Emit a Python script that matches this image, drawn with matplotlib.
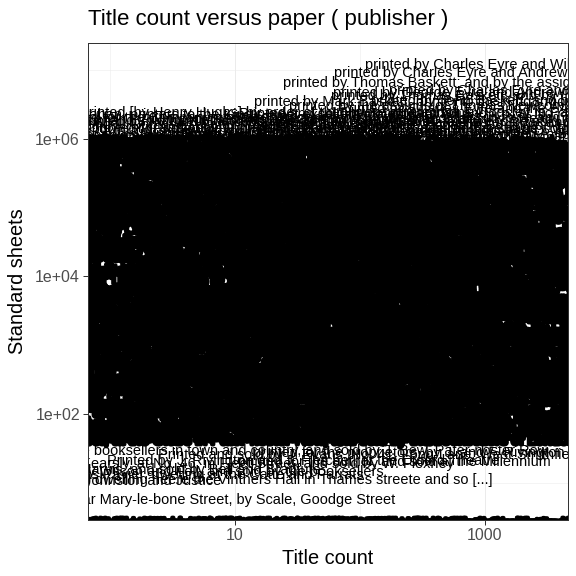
import matplotlib
matplotlib.use('Agg')
import matplotlib.pyplot as plt
import matplotlib.patheffects as pe
from matplotlib.ticker import FixedLocator, NullFormatter

plt.rcParams['font.family'] = ['Liberation Sans', 'DejaVu Sans']

# publisher imprints used for the dense mass of labels
names = [
    "printed by Charles Eyre and William Strahan, printers to the King's most excellent majesty",
    "London : printed for J. Dodsley, in Pall-Mall, and sold by T. Cadell in the Strand",
    "printed for W. Strahan; J. F. and C. Rivington, T. Payne, W. Owen, T. Longman, B. White",
    "Printed for R. Baldwin, in Pater-noster Row; and J. Johnson, in St. Paul's Church-yard",
    "printed by John Baskett, printer to the Kings most excellent majesty, and by the assigns of Thomas Newcomb",
    "Printed for the Company of Stationers, and sold by the booksellers in town and country",
    "printed for A. Millar, J. and R. Tonson, and D. Wilson and T. Durham, in the Strand",
    "Printed by Thomas Harper for Richard Thrale, and are to be sold at his shop at the Crosse-keyes",
    "printed for G. G. J. and J. Robinson, Pater-noster-Row; and J. Debrett, Piccadilly",
    "Printed by J. Nichols, and sold by J. Wilkie, in St. Paul's Church-Yard; and T. Payne",
    "printed for T. Becket and P. A. De Hondt, at Tully's Head, near Surry-Street, in the Strand",
    "Printed for J. Roberts near the Oxford-Arms in Warwick-Lane, and sold by the booksellers",
    "printed by W. Bowyer, for C. Bathurst, J. Beecroft, W. Strahan, J. and F. Rivington",
    "Printed for John Stockdale, opposite Burlington-House, Piccadilly; and J. Debrett",
    "printed by S. Richardson; and sold by J. Osborn, at the Golden-Ball in Pater-noster Row",
    "Printed by Hamilton and Balfour; and sold by Kincaid and Bell, and by John Wood",
    "printed for J. Knapton, R. Knaplock, J. Sprint, D. Midwinter, A. Bettesworth, and W. Innys",
    "Printed for J. Wilford, behind the Chapter-House, near St. Paul's, and sold by the pamphlet-sellers",
    "printed by R. and A. Foulis, printers to the University, and sold by them and other booksellers",
    "Printed and sold by John Marshall and Co. at No. 4, Aldermary Church-Yard, in Bow-Lane",
    "printed by Richard Hodgkinsonne for Thomas Whitaker, and are to be sold at the signe of the Kings Head",
    "Printed for T. Cooper, at the Globe in Pater-noster-Row, and sold by the booksellers of London and Westminster",
]

# dense block of publishers (title count, standard sheets)
core_titles = [
    1.5, 35, 1900, 4.2, 140, 2700, 1.1, 14, 650, 8,
    260, 3000, 2.2, 48, 1200, 6, 90, 2400, 1.3, 20,
    850, 3.5, 170, 2800, 1.8, 28, 1500, 5, 75, 2200,
    1.2, 16, 950, 7, 210, 3100, 2.6, 40, 1700, 4,
    120, 2600, 1.4, 24, 720, 9, 300, 2900, 2, 55,
    1400, 3.2, 150, 2300, 1.6, 18, 1000, 6.5, 85, 2500,
    1.1, 32, 1800, 4.8, 190, 3000, 2.4, 12, 580, 7.5,
    240, 2700, 1.7, 45, 1300, 5.5, 100, 2100, 1.3, 26,
    900, 3.8, 160, 2900, 2, 22, 1600, 4.5, 65, 2400,
    1.2, 38, 1100, 8.5, 230, 3100, 2.8, 15, 780, 6,
    130, 2600, 1.5, 30, 1400, 5, 95, 2800, 1.9, 60,
]
core_sheets = [
    950000, 880000, 805000, 742000, 680000, 618000, 566000, 520000, 471000, 433000,
    396000, 361000, 330000, 300000, 274000, 251000, 228000, 208000, 190000, 174000,
    158000, 145000, 132000, 120000, 110000, 100500, 91600, 83400, 76100, 69300,
    63200, 57500, 52400, 47800, 43500, 39700, 36100, 32900, 30000, 27400,
    24900, 22700, 20700, 18900, 17200, 15700, 14300, 13000, 11900, 10800,
    9860, 8990, 8190, 7460, 6800, 6200, 5650, 5150, 4690, 4280,
    3900, 3550, 3240, 2950, 2690, 2450, 2230, 2040, 1860, 1690,
    1540, 1410, 1280, 1170, 1065, 970, 885, 806, 735, 670,
    611, 557, 507, 462, 421, 384, 350, 319, 291, 265,
    241, 220, 200, 183, 167, 152, 138, 126, 115, 105,
    95, 87, 79, 72, 65.5, 59.7, 54.4, 49.6, 45.2, 41.2,
]

# looser fringe above the block
top_titles = [1.3, 60, 900, 2.5, 300, 2600, 8, 1500, 1.1, 25,
              2000, 4, 450, 3000, 1.7, 120, 12, 2200, 5, 700]
top_sheets = [2.2e6, 2.05e6, 1.95e6, 1.85e6, 1.78e6, 1.7e6, 1.6e6, 1.52e6, 1.45e6, 1.38e6,
              1.32e6, 1.26e6, 1.2e6, 1.15e6, 1.1e6, 1.06e6, 1.02e6, 2.3e6, 1.9e6, 1.4e6]

# single publishers that stand out
solo_names = [
    "printed by Charles Eyre and William Strahan",
    "printed by Charles Eyre and Andrew Strahan",
    "printed by Thomas Baskett; and by the assigns of Robert Baskett",
    "printed by George Eyre and Andrew Strahan",
    "printed by Mark Baskett, printer to the King's most excellent majesty",
    "printed by John Baskett, and by the assigns of Robert",
    "printed by Charles Eyre and William Strahan",
    "printed by Thomas Baskett, and by the assigns of Robert Baskett",
    "printed by the assigns of Thomas Newcomb, and Henry Hills, deceas'd",
    "Printed by Charles Eyre and the executors of William Strahan",
    "Printed [by Henry Hughs] by order of the House of Commons",
    "London : printed for J. Dodsley in Pall Mall, and",
    "printed for the proprietors, by J. and F. Rivington",
    "Printed for the booksellers in town and country, and sold by J. Bew, Pater-noster Row",
    "Printed and sold by J. Evans, No. 41, Long-Lane, West-Smithfield",
    "printed for the author, and sold at the Millennium",
    "Printed by J. Rivington and J. Fletcher, at the Oxford Theatre",
    "printed for G. Kearsly, at No. 46, in Fleet-Street, and sold by W. Flexney",
    "Printed by J. Jarvis, and sold by Bell and Bradfute",
    "printed by Wilson and Fell, and sold by the booksellers",
    "Printed for Thomas Pavier, dwelling at the Catte and Parrats",
    "Imprinted by Henrie Bynneman, dwelling neere the Vinthers Hall in Thames streete and so [...]",
    "Printed by J. Johnston and Justice",
    "Sold at No. 3, Charles Street, near Mary-le-bone Street, by Scale, Goodge Street",
]
solo_titles = [1530, 880, 1160, 850, 800, 3000, 2400, 2800, 1800, 2600, 21, 1000,
               246, 20, 120, 190, 35, 8, 2.5, 6, 3, 4.3, 1, 1.55]
solo_sheets = [1.19e7, 9.1e6, 6.5e6, 4.7e6, 3.5e6, 3.6e6, 5.0e6, 4.2e6, 3.0e6, 2.7e6, 2.39e6, 2.35e6,
               27, 28.5, 25.5, 20, 21, 19, 15.5, 14.5, 13, 11.1, 10.6, 5.6]

# publishers with hardly any paper, piled on the bottom edge
floor_titles = [1.5, 40, 1500, 300, 6, 3000, 12, 700]
floor_sheets = [2.5, 2.5, 2.5, 2.5, 2.5, 2.5, 2.48, 2.48]

fig = plt.figure(figsize=(8, 8), dpi=72)
ax = fig.add_axes([88 / 576, 56 / 576, 480 / 576, 477 / 576])
ax.set_xscale('log')
ax.set_yscale('log')
ax.set_xlim(10 ** -0.176, 10 ** 3.664)
ax.set_ylim(10 ** 0.458, 10 ** 7.396)

fs = 14.5
stroke = [pe.withStroke(linewidth=4, foreground='black')]
for i, (x, y) in enumerate(zip(core_titles, core_sheets)):
    ax.text(x, y, names[i % len(names)], ha='center', va='center', fontsize=fs,
            color='black', clip_on=True, path_effects=stroke)
for x, y in zip(floor_titles, floor_sheets):
    ax.text(x, y, names[0], ha='center', va='center', fontsize=fs,
            color='black', clip_on=True, path_effects=stroke)
for i, (x, y) in enumerate(zip(top_titles, top_sheets)):
    ax.text(x, y, names[(i * 5) % len(names)], ha='center', va='center', fontsize=fs,
            color='black', clip_on=True)
for t, x, y in zip(solo_names, solo_titles, solo_sheets):
    ax.text(x, y, t, ha='center', va='center', fontsize=fs, color='black', clip_on=True)

# axes, grid and ticks in the look of theme_bw
ax.xaxis.set_major_locator(FixedLocator([10, 1000]))
ax.xaxis.set_minor_locator(FixedLocator([1, 100]))
ax.yaxis.set_major_locator(FixedLocator([1e2, 1e4, 1e6]))
ax.yaxis.set_minor_locator(FixedLocator([1e1, 1e3, 1e5, 1e7]))
ax.set_xticklabels(['10', '1000'])
ax.set_yticklabels(['1e+02', '1e+04', '1e+06'])
ax.xaxis.set_minor_formatter(NullFormatter())
ax.yaxis.set_minor_formatter(NullFormatter())
ax.tick_params(which='major', direction='out', length=5, width=1, color='#333333',
               labelcolor='#4D4D4D', labelsize=16, pad=3)
ax.tick_params(which='minor', length=0)
ax.grid(which='major', color='#EBEBEB', linewidth=1)
ax.grid(which='minor', color='#EBEBEB', linewidth=0.5)
ax.set_axisbelow(True)
for sp in ax.spines.values():
    sp.set_color('#333333')
    sp.set_linewidth(1)
    sp.set_zorder(10)

fig.text(88 / 576, 1 - 20 / 576, 'Title count versus paper ( publisher )',
         ha='left', va='center', fontsize=22.3)
fig.text(328 / 576, 1 - 558 / 576, 'Title count', ha='center', va='center', fontsize=20)
fig.text(18 / 576, 1 - 281 / 576, 'Standard sheets', ha='center', va='center',
         rotation=90, fontsize=20)

plt.savefig('out.png', dpi=72)
